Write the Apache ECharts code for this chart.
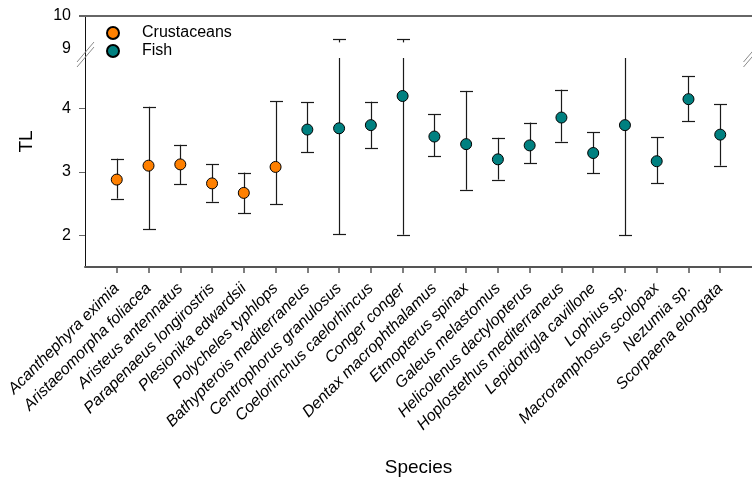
<!DOCTYPE html>
<html><head><meta charset="utf-8">
<script src="https://cdn.jsdelivr.net/npm/echarts@6/dist/echarts.min.js"></script>
<style>html,body{margin:0;padding:0;background:#fff}#c{width:752px;height:478px}</style>
</head><body><div id="c"></div>
<script>
const categories = [
  'Acanthephyra eximia','Aristaeomorpha foliacea','Aristeus antennatus','Parapenaeus longirostris',
  'Plesionika edwardsii','Polycheles typhlops','Bathypterois mediterraneus','Centrophorus granulosus',
  'Coelorinchus caelorhincus','Conger conger','Dentax macrophthalamus','Etmopterus spinax',
  'Galeus melastomus','Helicolenus dactylopterus','Hoplostethus mediterraneus','Lepidotrigla cavillone',
  'Lophius sp.','Macroramphosus scolopax','Nezumia sp.','Scorpaena elongata'
];
const groups = ['Crustaceans','Crustaceans','Crustaceans','Crustaceans','Crustaceans','Crustaceans',
  'Fish','Fish','Fish','Fish','Fish','Fish','Fish','Fish','Fish','Fish','Fish','Fish','Fish','Fish'];
const meanTL = [2.88,3.10,3.12,2.82,2.67,3.08,3.67,3.69,3.74,4.20,3.56,3.44,3.20,3.42,3.86,3.30,3.74,3.17,4.15,3.59];
const lowTL  = [2.58,2.10,2.81,2.53,2.35,2.49,3.31,2.02,3.38,2.01,3.25,2.72,2.88,3.14,3.48,2.98,2.00,2.82,3.80,3.10];
const highTL = [3.21,4.03,3.43,3.12,2.99,4.12,4.10,9.30,4.11,9.30,3.91,4.28,3.54,3.78,4.30,3.63,6.00,3.55,4.51,4.07];
const lowerTicks = [2,3,4];
const upperTicks = [9,10];
const lowerRange = [1.5,4.8];
const upperRange = [9,10];
const groupNames = ['Crustaceans','Fish'];
const groupColors = ['#FF8000','#008080'];

const FONT = '"Liberation Sans", Arial, sans-serif';
const UPPER_CLIP = 9.2;
const CAP = 6.5;
const barStyle = {stroke:'#1a1a1a', lineWidth:1.2};

const xs = categories.map((_, i) => i + 1);
const lowerBars = xs.map((x, i) => [x, lowTL[i], highTL[i]]);
const upperBars = xs.map((x, i) => [x, lowTL[i], highTL[i]]).filter(d => d[2] > upperRange[0]);

function renderLower(params, api) {
  const x = api.value(0), lo = api.value(1), hi = api.value(2);
  const cs = params.coordSys;
  const pLo = api.coord([x, lo]), pHi = api.coord([x, hi]);
  const px = Math.round(pLo[0]) + 0.5;
  const top = cs.y, bottom = cs.y + cs.height;
  const yHi = Math.max(pHi[1], top), yLo = Math.min(pLo[1], bottom);
  const ch = [{type:'line', shape:{x1:px, y1:yLo, x2:px, y2:yHi}, style:barStyle}];
  if (pLo[1] <= bottom) { const y = Math.round(pLo[1]) + 0.5; ch.push({type:'line', shape:{x1:px-CAP, y1:y, x2:px+CAP, y2:y}, style:barStyle}); }
  if (pHi[1] >= top) { const y = Math.round(pHi[1]) + 0.5; ch.push({type:'line', shape:{x1:px-CAP, y1:y, x2:px+CAP, y2:y}, style:barStyle}); }
  return {type:'group', children: ch};
}
function renderUpper(params, api) {
  const x = api.value(0), hi = api.value(2);
  const pHi = api.coord([x, hi]), pC = api.coord([x, UPPER_CLIP]);
  const px = Math.round(pHi[0]) + 0.5;
  const y = Math.round(pHi[1]) + 0.5;
  return {type:'group', children:[
    {type:'line', shape:{x1:px, y1:y, x2:px, y2:pC[1]}, style:barStyle},
    {type:'line', shape:{x1:px-CAP, y1:y, x2:px+CAP, y2:y}, style:barStyle}
  ]};
}

const scatterSeries = groupNames.map((g, gi) => ({
  name: g, type: 'scatter', xAxisIndex: 0, yAxisIndex: 0, z: 5,
  symbol: 'circle', symbolSize: 11,
  itemStyle: {color: groupColors[gi], borderColor: '#000', borderWidth: 1, opacity: 1},
  data: xs.map((x, i) => groups[i] === g ? [x, meanTL[i]] : null).filter(Boolean)
}));

const chart = echarts.init(document.getElementById('c'), null, {renderer:'canvas'});
chart.setOption({
  animation: false,
  textStyle: {fontFamily: FONT},
  grid: [
    {left: 85, width: 668, top: 58, height: 209},
    {left: 85, width: 668, top: 16, height: 33}
  ],
  xAxis: [
    {type:'value', gridIndex:0, min:0, max:categories.length + 1,
     axisLine:{show:true, lineStyle:{color:'#555', width:2}},
     axisTick:{show:true, customValues: xs, length:6, lineStyle:{color:'#555', width:1.5}},
     axisLabel:{show:true, customValues: xs, rotate:45, margin:19, fontSize:16, fontStyle:'italic', color:'#000', fontFamily: FONT,
       formatter: v => categories[v - 1] || ''},
     splitLine:{show:false},
     name:'Species', nameLocation:'middle', nameGap:191,
     nameTextStyle:{fontSize:19, color:'#000', fontFamily: FONT}},
    {type:'value', gridIndex:1, position:'top', min:0, max:categories.length + 1,
     axisLine:{show:true, lineStyle:{color:'#666', width:2}},
     axisTick:{show:false}, axisLabel:{show:false}, splitLine:{show:false}}
  ],
  yAxis: [
    {type:'value', gridIndex:0, min:lowerRange[0], max:lowerRange[1],
     axisLine:{show:true, lineStyle:{color:'#111', width:1}},
     axisTick:{show:true, customValues: lowerTicks, length:6, lineStyle:{color:'#666', width:1}},
     axisLabel:{show:true, customValues: lowerTicks, margin:14, fontSize:16, color:'#000', fontFamily: FONT},
     splitLine:{show:false}},
    {type:'value', gridIndex:1, min:upperRange[0], max:upperRange[1],
     axisLine:{show:true, lineStyle:{color:'#111', width:1}},
     axisTick:{show:true, customValues:[upperTicks[1]], length:6, lineStyle:{color:'#666', width:2}},
     axisLabel:{show:true, customValues: upperTicks, margin:14, fontSize:16, color:'#000', fontFamily: FONT},
     splitLine:{show:false}}
  ],
  legend: {
    data: groupNames, orient:'vertical', left:101, top:20, itemWidth:12, itemHeight:12, itemGap:2,
    textStyle:{fontSize:16, color:'#000', fontFamily: FONT, padding:[0,0,0,18]}
  },
  series: [
    {type:'custom', name:'errLower', xAxisIndex:0, yAxisIndex:0, z:2, clip:false,
     renderItem: renderLower, data: lowerBars, encode:{x:0, y:[1,2]}},
    {type:'custom', name:'errUpper', xAxisIndex:1, yAxisIndex:1, z:2, clip:false,
     renderItem: renderUpper, data: upperBars, encode:{x:0, y:[2]}},
    ...scatterSeries
  ]
});

// axis break decoration and y title
const pTopLower = chart.convertToPixel({gridIndex:0}, [0, lowerRange[1]]);
const pBotUpper = chart.convertToPixel({gridIndex:1}, [0, upperRange[0]]);
const pRight = chart.convertToPixel({gridIndex:0}, [categories.length + 1, lowerRange[1]]);
const pTopUpper = chart.convertToPixel({gridIndex:1}, [0, upperRange[1]]);
const pBottom = chart.convertToPixel({gridIndex:0}, [0, lowerRange[0]]);
const cy = (pTopLower[1] + pBotUpper[1]) / 2 + 1;
function slashes(cx) {
  const st = {stroke:'#8a8a8a', lineWidth:1};
  return [-2.5, 2.5].map(d => ({type:'line', silent:true, z:10,
    shape:{x1:cx - 8.5, y1:cy + d + 10, x2:cx + 8.5, y2:cy + d - 10}, style:st}));
}
chart.setOption({graphic: [
  {type:'line', silent:true, z:9, shape:{x1:pTopLower[0]+0.5, y1:pBotUpper[1], x2:pTopLower[0]+0.5, y2:pTopLower[1]}, style:{stroke:'#111', lineWidth:1}},
  ...slashes(pTopLower[0] + 0.5),
  ...slashes(pRight[0]),
  {type:'text', silent:true, x: 27, y: (pTopUpper[1] + pBottom[1]) / 2, rotation: Math.PI/2,
   style:{text:'TL', fontSize:19, fill:'#000', align:'center', verticalAlign:'middle', fontFamily: FONT}}
]});
</script>
</body></html>
